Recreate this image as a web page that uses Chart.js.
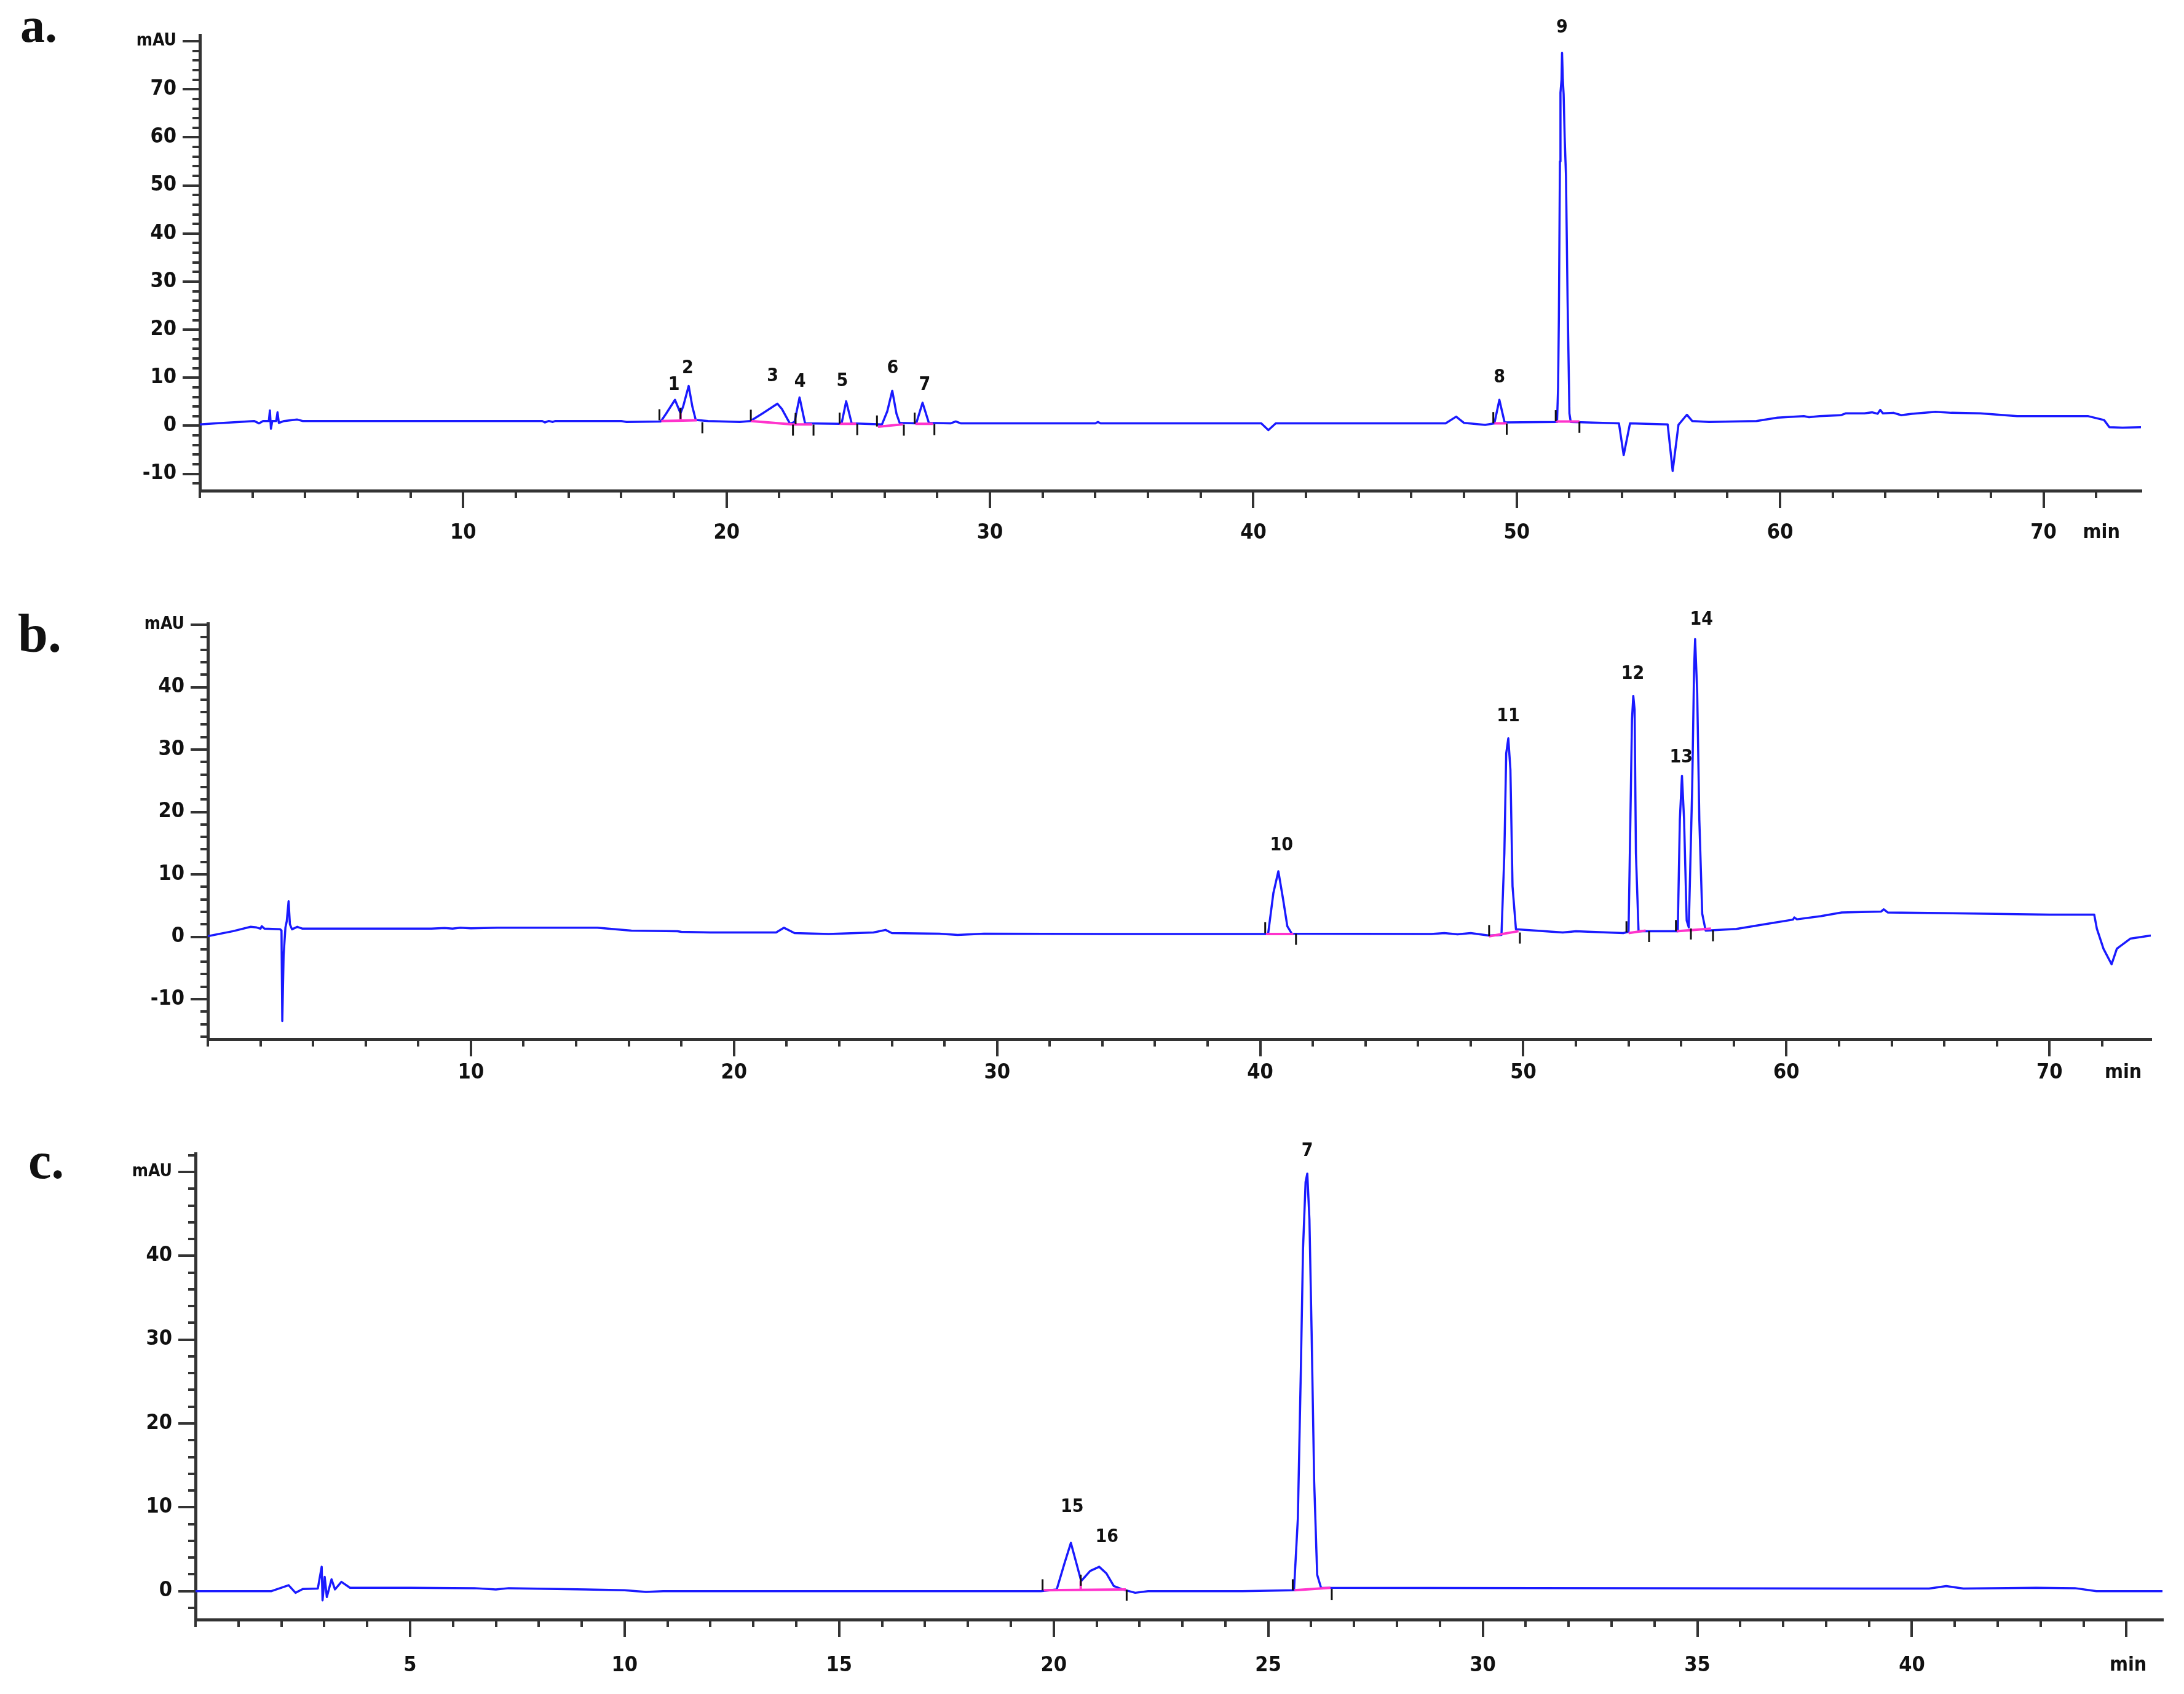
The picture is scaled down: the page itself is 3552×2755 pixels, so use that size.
<!DOCTYPE html>
<html>
<head>
<meta charset="utf-8">
<title>HPLC chromatograms</title>
<script src="https://cdn.jsdelivr.net/npm/chart.js@4.4.1/dist/chart.umd.min.js"></script>
<style>
  body { margin: 0; background: #fff; width: 3552px; height: 2755px; position: relative; overflow: hidden; }
  canvas { position: absolute; left: 0; }
</style>
</head>
<body>
<canvas id="chartA" width="3552" height="930" style="top:0px"></canvas>
<canvas id="chartB" width="3552" height="880" style="top:930px"></canvas>
<canvas id="chartC" width="3552" height="945" style="top:1810px"></canvas>
<script>
// ---- panel a : trace (min, mAU) ----
const timeA = [0, 0.6, 1.5, 2.06, 2.25, 2.4, 2.62, 2.66, 2.7, 2.75, 2.9, 2.95, 3.0, 3.2, 3.7, 3.9, 8.0,
  13.0, 13.1, 13.25, 13.4, 13.5, 16.0, 16.2, 17.5, 17.7, 18.04, 18.25, 18.35, 18.56, 18.7, 18.83, 19.3,
  20.5, 20.9, 21.37, 21.93, 22.1, 22.41, 22.58, 22.77, 22.98, 24.3, 24.37, 24.54, 24.75, 25.9, 26.1, 26.29,
  26.45, 26.57, 27.2, 27.44, 27.68, 28.5, 28.7, 28.9, 34.0, 34.1, 34.2, 40.3, 40.57, 40.85, 47.3, 47.7,
  48.0, 48.8, 49.15, 49.34, 49.54, 51.53, 51.57, 51.6, 51.64, 51.66, 51.7, 51.72, 51.75, 51.78, 51.82,
  51.87, 51.93, 52.0, 52.05, 53.88, 54.06, 54.3, 55.73, 55.92, 56.14, 56.46, 56.66, 57.3, 59.1, 59.9,
  60.9, 61.1, 61.5, 62.3, 62.5, 63.2, 63.5, 63.7, 63.8, 63.9, 64.3, 64.6, 65.0, 65.9, 66.5, 67.6, 69.0,
  70.5, 71.7, 72.3, 72.5, 73.0, 73.7];
const signalA = [0.3, 0.5, 0.8, 1.0, 0.5, 1.0, 1.0, 3.2, -0.6, 1.0, 1.0, 2.8, 0.6, 1.0, 1.3, 1.0, 1.0,
  1.0, 0.7, 1.0, 0.8, 1.0, 1.0, 0.8, 0.9, 2.5, 5.4, 2.6, 4.0, 8.3, 4.0, 1.2, 1.0,
  0.8, 1.0, 2.6, 4.6, 3.5, 0.4, 0.8, 5.9, 0.5, 0.4, 0.6, 5.1, 0.5, 0.3, 3.0, 7.3,
  2.5, 0.6, 0.5, 4.8, 0.6, 0.5, 0.9, 0.5, 0.5, 0.8, 0.5, 0.5, -0.9, 0.5, 0.5, 1.9,
  0.6, 0.2, 0.5, 5.4, 0.7, 0.8, 8.0, 22.7, 55.0, 69.3, 72.0, 77.6, 72.0, 69.0, 60.0,
  51.9, 26.2, 2.6, 0.8, 0.5, -6.1, 0.5, 0.3, -9.4, 0.2, 2.3, 1.0, 0.8, 1.0, 1.7,
  2.0, 1.8, 2.0, 2.2, 2.6, 2.6, 2.8, 2.5, 3.3, 2.6, 2.7, 2.2, 2.5, 2.9, 2.7, 2.6, 2.0,
  2.0, 2.0, 1.2, -0.3, -0.4, -0.3];
// integration baselines (null = break)
const baseTimeA = [17.52, 18.87, null, 18.25, 18.25, null, 20.92, 22.52, 23.25, null, 24.29, 24.92, null,
  25.75, 26.69, null, 27.17, 27.83, null, 49.15, 49.62, null, 51.48, 52.38];
const baseValueA = [1.0, 1.15, null, 1.05, 2.6, null, 1.0, 0.3, 0.3, null, 0.4, 0.4, null,
  -0.2, 0.3, null, 0.4, 0.4, null, 0.5, 0.5, null, 0.9, 0.9];
// peak start / end marks (centre of each little bar)
const markTimeA = [17.45, 18.25, 19.08, 20.92, 22.52, 22.62, 23.3, 24.29, 24.96, 25.71, 26.73, 27.14, 27.89, 49.11, 49.62, 51.48, 52.38];
const markValueA = [2.3, 2.6, -0.4, 2.2, -0.9, 1.5, -0.9, 1.6, -0.8, 1.0, -0.9, 1.6, -0.8, 1.7, -0.7, 2.1, -0.3];
const peakNamesA = ['1', '2', '3', '4', '5', '6', '7', '8', '9'];
const peakTimeA = [18.0, 18.52, 21.75, 22.79, 24.39, 26.31, 27.52, 49.34, 51.72];
const peakValueA = [8.5, 11.9, 10.3, 9.15, 9.3, 11.9, 8.5, 10.0, 82.8];

// ---- panel b ----
const timeB = [0, 0.96, 1.63, 1.85, 2.0, 2.05, 2.15, 2.75, 2.8, 2.83, 2.88, 2.95, 3.0, 3.07, 3.12, 3.2,
  3.4, 3.6, 8.5, 9.0, 9.3, 9.6, 10.0, 11.0, 14.8, 16.1, 17.85, 18.0, 19.1, 21.6, 21.9, 22.3, 23.6, 25.3,
  25.76, 26.0, 27.8, 28.5, 29.5, 34.2, 40.3, 40.5, 40.69, 40.87, 41.03, 41.2, 46.5, 47.0, 47.5, 48.0, 48.7,
  49.17, 49.28, 49.35, 49.43, 49.51, 49.59, 49.72, 51.5, 52.0, 53.8, 54.0, 54.07, 54.13, 54.18, 54.23,
  54.28, 54.38, 55.87, 55.95, 56.03, 56.11, 56.21, 56.29, 56.42, 56.49, 56.53, 56.61, 56.69, 56.8, 56.93,
  58.1, 59.3, 60.25, 60.3, 60.4, 61.3, 62.1, 63.6, 63.7, 63.85, 65.9, 70.0, 71.7, 71.8, 72.05, 72.36,
  72.56, 73.07, 73.85];
const signalB = [0.1, 0.9, 1.6, 1.5, 1.3, 1.7, 1.3, 1.2, 1.0, -13.5, -3.0, 1.5, 2.5, 5.7, 2.0, 1.2,
  1.6, 1.3, 1.3, 1.4, 1.3, 1.45, 1.35, 1.45, 1.45, 1.0, 0.9, 0.8, 0.7, 0.7, 1.45, 0.6, 0.45, 0.7,
  1.1, 0.6, 0.5, 0.3, 0.5, 0.45, 0.45, 7.0, 10.5, 6.0, 1.7, 0.5, 0.45, 0.6, 0.4, 0.6, 0.2,
  0.3, 13.4, 29.4, 31.8, 26.8, 8.1, 1.2, 0.7, 0.9, 0.6, 0.8, 18.8, 34.8, 38.6, 36.4,
  13.4, 0.9, 0.9, 18.8, 25.8, 18.8, 2.6, 1.5, 24.1, 42.8, 47.7, 39.0, 18.8, 3.7, 1.0,
  1.25, 2.1, 2.75, 3.1, 2.8, 3.3, 3.9, 4.05, 4.4, 3.9, 3.8, 3.55, 3.55, 1.3, -1.9, -4.4,
  -1.9, -0.3, 0.2];
const baseTimeB = [40.22, 41.26, null, 48.7, 49.82, null, 54.0, 54.65, null, 55.83, 57.13];
const baseValueB = [0.45, 0.45, null, 0.07, 0.9, null, 0.6, 1.0, null, 0.9, 1.3];
const markTimeB = [40.19, 41.36, 48.7, 49.87, 53.92, 54.78, 55.8, 56.37, 57.21];
const markValueB = [1.45, -0.4, 1.0, -0.2, 1.6, 0.05, 1.8, 0.45, 0.15];
const peakNamesB = ['10', '11', '12', '13', '14'];
const peakTimeB = [40.81, 49.43, 54.16, 56.0, 56.77];
const peakValueB = [14.6, 35.3, 42.1, 28.7, 50.8];

// ---- panel c ----
const timeC = [0, 1.77, 2.17, 2.33, 2.5, 2.85, 2.94, 2.96, 3.01, 3.06, 3.17, 3.25, 3.4, 3.6, 5.0, 6.5,
  7.0, 7.3, 9.1, 10.0, 10.5, 10.9, 19.7, 20.07, 20.25, 20.4, 20.53, 20.64, 20.85, 21.06, 21.23, 21.4, 21.6,
  21.9, 22.2, 24.4, 25.6, 25.69, 25.76, 25.81, 25.87, 25.91, 25.96, 26.01, 26.07, 26.14, 26.23, 38.8,
  40.4, 40.8, 41.2, 42.9, 43.8, 44.3, 45.84];
const signalC = [0, 0, 0.7, -0.2, 0.25, 0.3, 2.9, -1.1, 1.7, -0.7, 1.4, 0.2, 1.1, 0.4, 0.4, 0.35,
  0.2, 0.35, 0.2, 0.1, -0.1, 0, 0, 0.2, 3.3, 5.75, 3.3, 1.2, 2.4, 2.9, 2.1, 0.6, 0.2,
  -0.2, 0, 0, 0.1, 8.7, 26.5, 40.8, 48.8, 49.8, 44.3, 31.0, 13.1, 1.95, 0.4, 0.3,
  0.3, 0.6, 0.3, 0.4, 0.35, 0, 0];
const baseTimeC = [19.77, 21.68, null, 20.63, 20.63, null, 25.61, 26.45];
const baseValueC = [0.1, 0.2, null, 0.15, 1.2, null, 0.1, 0.4];
const markTimeC = [19.74, 20.63, 21.7, 25.57, 26.48];
const markValueC = [0.75, 1.3, -0.5, 0.75, -0.4];
const peakNamesC = ['15', '16', '7'];
const peakTimeC = [20.43, 21.24, 25.91];
const peakValueC = [10.0, 6.4, 52.5];

const TRACE = '#1a1aff';
const BASELINE = '#ff33cc';
const AXIS = '#333';
const NUM_FONT = "'DejaVu Sans Condensed', 'Open Sans', sans-serif";
const LETTER_FONT = "'Liberation Serif', 'DejaVu Serif', serif";

function pairs(xs, ys) {
  return xs.map((x, i) => ({ x: x, y: ys[i] }));
}
function isMultiple(v, m) {
  return Math.abs(v / m - Math.round(v / m)) < 1e-6;
}

// long major ticks, peak numbers, "min" and panel letter
const overlay = {
  id: 'overlay',
  afterDraw(chart, args, o) {
    const ctx = chart.ctx, xs = chart.scales.x, ys = chart.scales.y, area = chart.chartArea;
    ctx.save();
    ctx.strokeStyle = AXIS;
    ctx.lineWidth = 4;
    ctx.beginPath();
    xs.ticks.forEach(t => {
      if (t.value > 0 && isMultiple(t.value, o.xMajor)) {
        const px = Math.round(xs.getPixelForValue(t.value));
        ctx.moveTo(px, area.bottom); ctx.lineTo(px, area.bottom + 28);
      }
    });
    ys.ticks.forEach(t => {
      if (isMultiple(t.value, 10)) {
        const py = Math.round(ys.getPixelForValue(t.value));
        ctx.moveTo(area.left, py); ctx.lineTo(area.left - 28, py);
      }
    });
    ctx.stroke();

    ctx.fillStyle = '#111';
    ctx.textAlign = 'center';
    ctx.textBaseline = 'middle';
    ctx.font = 'bold 30px ' + NUM_FONT;
    o.names.forEach((n, i) => {
      ctx.fillText(n, xs.getPixelForValue(o.times[i]), ys.getPixelForValue(o.values[i]));
    });
    ctx.font = 'bold 32px ' + NUM_FONT;
    ctx.fillText('min', xs.getPixelForValue(o.minAt), area.bottom + o.minOffset);

    ctx.textAlign = 'left';
    ctx.textBaseline = 'alphabetic';
    ctx.font = 'bold ' + o.letterSize + 'px ' + LETTER_FONT;
    ctx.fillText(o.letter, o.letterX, o.letterY);
    ctx.restore();
  }
};

function makeChart(id, p) {
  new Chart(document.getElementById(id), {
    type: 'scatter',
    data: {
      datasets: [
        { data: pairs(p.markTime, p.markValue), showLine: false, pointStyle: 'line', rotation: 90,
          pointRadius: 9, pointBorderWidth: 3, pointBorderColor: '#111', order: 0, clip: false },
        { data: pairs(p.baseTime, p.baseValue), showLine: true, spanGaps: false, borderColor: BASELINE,
          borderWidth: 4, pointRadius: 0, order: 1 },
        { data: pairs(p.time, p.signal), showLine: true, borderColor: TRACE, borderWidth: 3.5,
          borderJoinStyle: 'round', pointRadius: 0, order: 2 }
      ]
    },
    options: {
      responsive: false,
      animation: false,
      devicePixelRatio: 1,
      events: [],
      layout: { padding: { top: p.padTop, right: p.padRight, left: 0, bottom: 0 } },
      plugins: {
        legend: { display: false },
        tooltip: { enabled: false },
        overlay: {
          xMajor: p.xMajor, names: p.peakNames, times: p.peakTime, values: p.peakValue,
          minAt: p.minAt, minOffset: p.xLabelOffset, letter: p.letter, letterX: p.letterX,
          letterY: p.letterY, letterSize: p.letterSize
        }
      },
      scales: {
        x: {
          type: 'linear', min: 0, max: p.xMax,
          border: { display: true, color: AXIS, width: 5 },
          grid: { drawOnChartArea: false, drawTicks: true, tickLength: 12, color: AXIS, lineWidth: 4 },
          ticks: {
            stepSize: p.xStep, includeBounds: false, autoSkip: false, maxRotation: 0,
            padding: p.xPad, color: '#111', font: { family: NUM_FONT, size: 34, weight: 'bold' },
            callback: v => (v > 0 && v <= p.xLabelMax && isMultiple(v, p.xMajor)) ? String(v) : ''
          },
          afterFit: s => { s.height = p.xAxisHeight; }
        },
        y: {
          type: 'linear', min: p.yMin, max: p.yMax,
          border: { display: true, color: AXIS, width: 5 },
          grid: { drawOnChartArea: false, drawTicks: true, tickLength: 12, color: AXIS, lineWidth: 4 },
          ticks: {
            stepSize: 2, includeBounds: false, autoSkip: false, padding: 26, color: '#111',
            font: c => ({ family: NUM_FONT, size: (c.tick && c.tick.value === p.mauAt) ? 28 : 34, weight: 'bold' }),
            callback: v => v === p.mauAt ? 'mAU' : (isMultiple(v, 10) ? String(v) : '')
          },
          afterFit: s => { s.width = p.yAxisWidth; }
        }
      }
    },
    plugins: [overlay]
  });
}

makeChart('chartA', {
  time: timeA, signal: signalA, baseTime: baseTimeA, baseValue: baseValueA,
  markTime: markTimeA, markValue: markValueA, peakNames: peakNamesA, peakTime: peakTimeA, peakValue: peakValueA,
  xMax: 73.7, xStep: 2, xMajor: 10, xLabelMax: 70, yMin: -13.5, yMax: 81.3, mauAt: 80,
  padTop: 57, padRight: 70, yAxisWidth: 325, xAxisHeight: 132, xPad: 37, xLabelOffset: 69,
  minAt: 72.2, letter: 'a.', letterX: 33, letterY: 68, letterSize: 80
});
makeChart('chartB', {
  time: timeB, signal: signalB, baseTime: baseTimeB, baseValue: baseValueB,
  markTime: markTimeB, markValue: markValueB, peakNames: peakNamesB, peakTime: peakTimeB, peakValue: peakValueB,
  xMax: 73.85, xStep: 2, xMajor: 10, xLabelMax: 70, yMin: -16.4, yMax: 50.2, mauAt: 50,
  padTop: 84, padRight: 54, yAxisWidth: 338, xAxisHeight: 120, xPad: 23, xLabelOffset: 55,
  minAt: 72.8, letter: 'b.', letterX: 29, letterY: 130, letterSize: 88
});
makeChart('chartC', {
  time: timeC, signal: signalC, baseTime: baseTimeC, baseValue: baseValueC,
  markTime: markTimeC, markValue: markValueC, peakNames: peakNamesC, peakTime: peakTimeC, peakValue: peakValueC,
  xMax: 45.84, xStep: 1, xMajor: 5, xLabelMax: 40, yMin: -3.4, yMax: 52.2, mauAt: 50,
  padTop: 66, padRight: 35, yAxisWidth: 318, xAxisHeight: 121, xPad: 43, xLabelOffset: 75,
  minAt: 45.04, letter: 'c.', letterX: 46, letterY: 106, letterSize: 84
});
</script>
</body>
</html>
